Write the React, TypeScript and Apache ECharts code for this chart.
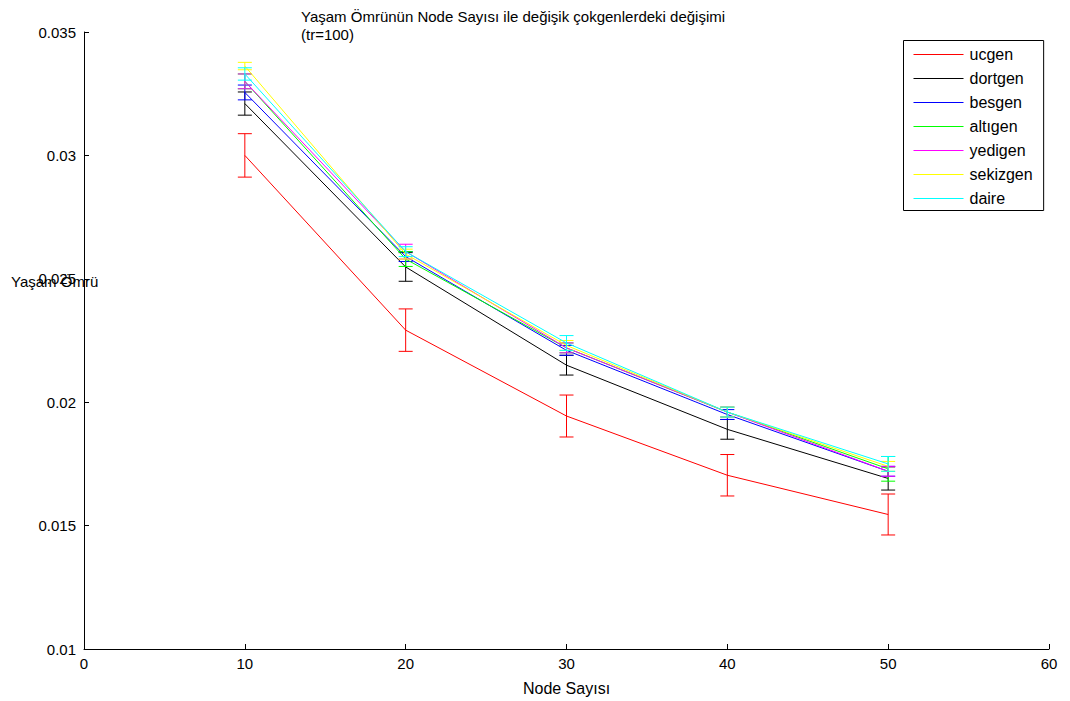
import React, { useEffect, useRef } from "react";
import * as echarts from "echarts";

const nodeCounts = [10, 20, 30, 40, 50];
const seriesNames = ["ucgen", "dortgen", "besgen", "altıgen", "yedigen", "sekizgen", "daire"];
const seriesColors = ["#ff0000", "#000000", "#0000ff", "#00ff00", "#ff00ff", "#ffff00", "#00ffff"];

const ucgen = [0.0300, 0.02292, 0.01944, 0.01704, 0.01545];
const dortgen = [0.0321, 0.02548, 0.0215, 0.0189, 0.01691];
const besgen = [0.03255, 0.0259, 0.0221, 0.0195, 0.0172];
const altigen = [0.0330, 0.0258, 0.0222, 0.0196, 0.0173];
const yedigen = [0.0330, 0.0261, 0.0222, 0.0196, 0.0172];
const sekizgen = [0.03362, 0.0260, 0.0223, 0.0196, 0.0174];
const daire = [0.0333, 0.0261, 0.0224, 0.0196, 0.0175];

const ucgenErr = [0.00088, 0.00086, 0.00085, 0.00084, 0.00083];
const dortgenErr = [0.00047, 0.00058, 0.0004, 0.0004, 0.00047];
const besgenErr = [0.0003, 0.0002, 0.0002, 0.0002, 0.0002];
const altigenErr = [0.0003, 0.0003, 0.0002, 0.0002, 0.0005];
const yedigenErr = [0.0003, 0.0003, 0.0002, 0.0002, 0.0002];
const sekizgenErr = [0.00015, 0.0002, 0.0002, 0.0002, 0.0002];
const daireErr = [0.00025, 0.0002, 0.0003, 0.0002, 0.0003];

const allValues = [ucgen, dortgen, besgen, altigen, yedigen, sekizgen, daire];
const allErrors = [ucgenErr, dortgenErr, besgenErr, altigenErr, yedigenErr, sekizgenErr, daireErr];

const FONT = "'Liberation Sans', Arial, Helvetica, sans-serif";

export default function App() {
  const ref = useRef<HTMLDivElement>(null);
  useEffect(() => {
    if (!ref.current) return;
    const chart = echarts.init(ref.current, null, { renderer: "svg" });
    const series: any[] = [];
    seriesNames.forEach((name, i) => {
      const vals = allValues[i];
      const errs = allErrors[i];
      series.push({
        name,
        type: "line",
        symbol: "none",
        data: nodeCounts.map((x, j) => [x, vals[j]]),
        lineStyle: { color: seriesColors[i], width: 1 },
        itemStyle: { color: seriesColors[i] },
        z: 2 + i,
      });
      series.push({
        name: name + "_err",
        type: "custom",
        data: nodeCounts.map((x, j) => [x, vals[j] - errs[j], vals[j] + errs[j]]),
        z: 2 + i,
        renderItem: (params: any, api: any) => {
          const x = api.value(0);
          const lo = api.coord([x, api.value(1)]);
          const hi = api.coord([x, api.value(2)]);
          const w = 7;
          const style = { stroke: seriesColors[i], lineWidth: 1, fill: null };
          return {
            type: "group",
            children: [
              { type: "line", shape: { x1: lo[0], y1: lo[1], x2: hi[0], y2: hi[1] }, style },
              { type: "line", shape: { x1: lo[0] - w, y1: lo[1], x2: lo[0] + w, y2: lo[1] }, style },
              { type: "line", shape: { x1: hi[0] - w, y1: hi[1], x2: hi[0] + w, y2: hi[1] }, style },
            ],
          };
        },
      });
    });
    chart.setOption({
      animation: false,
      backgroundColor: "#ffffff",
      textStyle: { fontFamily: FONT },
      title: {
        text: "Yaşam Ömrünün Node Sayısı ile değişik çokgenlerdeki değişimi\n(tr=100)",
        left: 301,
        top: 7,
        padding: 0,
        textStyle: { fontSize: 15, fontWeight: "normal", color: "#000", lineHeight: 18, fontFamily: FONT },
      },
      legend: {
        data: seriesNames.map((n, i) => ({
          name: n,
          icon: "path://M0,0H50V1H0Z",
          itemStyle: { color: seriesColors[i], opacity: 1, borderWidth: 0 },
        })),
        orient: "vertical",
        left: 903.5,
        top: 40.5,
        padding: [6, 11, 4, 10],
        itemWidth: 50,
        itemHeight: 14,
        itemGap: 8,
        symbolKeepAspect: true,
        borderColor: "#000",
        borderWidth: 1,
        backgroundColor: "#fff",
        textStyle: { fontSize: 16, lineHeight: 16, color: "#000", fontFamily: FONT, padding: [0, 0, 0, 1] },
      },
      grid: { left: 84, right: 21, top: 32, bottom: 51, containLabel: false },
      xAxis: {
        type: "value",
        min: 0,
        max: 60,
        interval: 10,
        name: "Node Sayısı",
        nameLocation: "middle",
        nameGap: 31,
        nameTextStyle: { fontSize: 16, color: "#000", fontFamily: FONT },
        axisLine: { lineStyle: { color: "#000" } },
        axisTick: { inside: true, length: 5, lineStyle: { color: "#000" } },
        axisLabel: { fontSize: 15, color: "#000", margin: 7, fontFamily: FONT },
        splitLine: { show: false },
      },
      yAxis: {
        type: "value",
        min: 0.01,
        max: 0.035,
        interval: 0.005,
        axisLine: { show: true, lineStyle: { color: "#000" } },
        axisTick: { show: true, inside: true, length: 5, lineStyle: { color: "#000" } },
        axisLabel: { fontSize: 15, color: "#000", margin: 8, fontFamily: FONT, formatter: (v: number) => String(parseFloat(v.toFixed(4))) },
        splitLine: { show: false },
      },
      graphic: [
        {
          type: "text",
          left: 11,
          top: 274,
          style: { text: "Yaşam Ömrü", fontSize: 15, fill: "#000", fontFamily: FONT },
        },
      ],
      series,
    });
    return () => chart.dispose();
  }, []);
  return <div ref={ref} style={{ width: 1070, height: 701, position: "absolute", left: 0, top: 0 }} />;
}
